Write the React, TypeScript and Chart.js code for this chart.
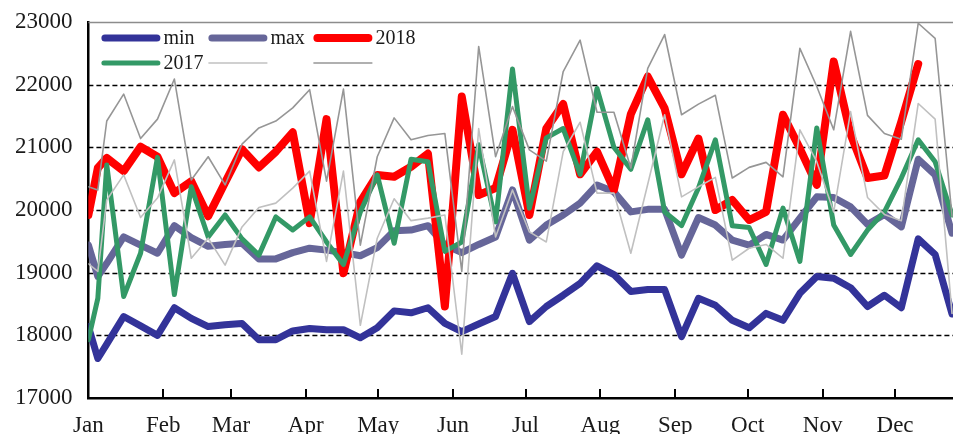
import React, { useEffect, useRef } from 'react';
import { Chart, registerables } from 'chart.js';

Chart.register(...registerables);

// Day-of-year positions of the observations (shared by every series)
const days = [
  0, 3.9, 7.6, 14.6, 21.6, 28.6, 35.6, 42.6, 49.6, 56.6, 63.6, 70.6, 77.6, 84.6, 91.6,
  98.6, 105.6, 112.6, 119.6, 126.6, 133.6, 140.6, 147.6, 154.6, 161.6, 168.6, 175.6,
  182.6, 189.6, 196.6, 203.6, 210.6, 217.6, 224.6, 231.6, 238.6, 245.6, 252.6, 259.6,
  266.6, 273.6, 280.6, 287.6, 294.6, 301.6, 308.6, 315.6, 322.6, 329.6, 336.6, 343.6,
  350.6, 357.6,
];

const monthStarts = [0, 31, 59, 90, 120, 151, 181, 212, 243, 273, 304, 334];
const monthLabels = ['Jan', 'Feb', 'Mar', 'Apr', 'May', 'Jun', 'Jul', 'Aug', 'Sep', 'Oct', 'Nov', 'Dec'];
const yTicks = [17000, 18000, 19000, 20000, 21000, 22000, 23000];

const seriesNames = ['min', 'max', '2018', '2017', '', ''];

const minValues = [
  18140, 17630, 17860, 18300, 18150, 18000, 18440, 18270, 18140, 18170, 18190, 17930, 17930,
  18070, 18110, 18090, 18090, 17960, 18120, 18390, 18360, 18440, 18190, 18060, 18180, 18300,
  18990, 18220, 18460, 18640, 18830, 19110, 18970, 18700, 18730, 18730, 17980, 18590, 18480,
  18240, 18120, 18350, 18240, 18670, 18940, 18910, 18760, 18460, 18640, 18440, 19540, 19290,
  18340,
];

const maxValues = [
  19440, 18940, 19150, 19570, 19440, 19310, 19750, 19560, 19420, 19450, 19470, 19220, 19220,
  19320, 19390, 19360, 19320, 19270, 19400, 19670, 19680, 19750, 19440, 19320, 19450, 19570,
  20320, 19520, 19760, 19920, 20110, 20400, 20290, 19970, 20010, 20010, 19280, 19880, 19760,
  19520, 19440, 19610, 19520, 19870, 20210, 20200, 20050, 19770, 19930, 19730, 20810, 20560,
  19630,
];

const values2018 = [
  19920, 20670, 20830, 20620, 21010, 20850, 20270, 20460, 19900, 20440, 20970, 20680, 20930,
  21240, 19790, 21450, 18990, 20130, 20560, 20530, 20690, 20900, 18460, 21810, 20240, 20350,
  21280, 19920, 21300, 21690, 20570, 20930, 20320, 21530, 22130, 21620, 20570, 21140, 20000,
  20160, 19840, 19970, 21520, 20980, 20400, 22370, 21210, 20510, 20550, 21410, 22330,
];

const values2017 = [
  17930, 18590, 20720, 18620, 19310, 20840, 18650, 20370, 19570, 19920, 19540, 19280, 19890,
  19680, 19890, 19490, 19130, 19970, 20560, 19470, 20810, 20770, 19340, 19490, 21040, 19810,
  22250, 20030, 21150, 21300, 20570, 21940, 21000, 20650, 21440, 19970, 19750, 20350, 21120,
  19750, 19720, 19130, 20030, 19180, 21310, 19760, 19290, 19680, 19970, 20510, 21120, 20770,
  19920,
];

const lightGrayValues = [
  19140, 19020, 20160, 20560, 19880, 20190, 20800, 19230, 19550, 19120, 19730, 20040, 20110,
  20350, 20620, 19180, 20620, 18160, 19550, 20180, 19830, 19870, 19920, 17700, 21300, 19570,
  20320, 19650, 19490, 20930, 21400, 20270, 20270, 19310, 20410, 21520, 20210, 20370, 20520,
  19200, 19390, 19450, 19230, 21280, 20770, 19970, 21570, 20200, 19930, 19830, 21700, 21450,
  18350,
];

const darkGrayValues = [
  20370, 20320, 21420, 21850, 21140, 21450, 22090, 20480, 20850, 20400, 21050, 21310, 21420,
  21630, 21920, 20460, 21930, 19440, 20850, 21470, 21120, 21190, 21220, 19020, 22610, 20850,
  21650, 20960, 20780, 22210, 22710, 21560, 21560, 20670, 22260, 22800, 21520, 21690, 21830,
  20510, 20680, 20760, 20530, 22580, 21970, 21280, 22850, 21510, 21220, 21130, 22980, 22740,
  19900,
];

const FONT = '"Liberation Serif", "Times New Roman", serif';

const toPoints = (vals: number[]) => vals.map((v, i) => ({ x: days[i], y: v }));

const gridPlugin = {
  id: 'customGrid',
  beforeDatasetsDraw(chart: any) {
    const { ctx, chartArea, scales } = chart;
    const ys = scales.y;
    const xs = scales.x;
    ctx.save();
    yTicks.forEach((v) => {
      const py = Math.round(ys.getPixelForValue(v)) + 0.5;
      if (v === yTicks[0]) return;
      ctx.beginPath();
      if (v === yTicks[yTicks.length - 1]) {
        ctx.setLineDash([]);
        ctx.strokeStyle = '#8c8c8c';
        ctx.lineWidth = 1.5;
      } else {
        ctx.setLineDash([5, 3]);
        ctx.strokeStyle = '#000000';
        ctx.lineWidth = 1.6;
      }
      ctx.moveTo(chartArea.left, py);
      ctx.lineTo(chartArea.right, py);
      ctx.stroke();
    });
    ctx.setLineDash([]);
    ctx.strokeStyle = '#000000';
    ctx.lineWidth = 2;
    monthStarts.forEach((d) => {
      const px = Math.round(xs.getPixelForValue(d));
      ctx.beginPath();
      ctx.moveTo(px, chartArea.bottom);
      ctx.lineTo(px, chartArea.bottom - 9);
      ctx.stroke();
    });
    ctx.restore();
  },
};

const legendPlugin = {
  id: 'customLegend',
  afterDatasetsDraw(chart: any) {
    const { ctx, chartArea } = chart;
    const cols = [13, 120, 225];
    const rows = [16, 41];
    const sampleLen = 59;
    ctx.save();
    chart.data.datasets.forEach((ds: any, i: number) => {
      const x = chartArea.left + cols[i % 3];
      const y = chartArea.top + rows[Math.floor(i / 3)];
      const w = ds.borderWidth;
      const thick = w > 3;
      ctx.beginPath();
      ctx.strokeStyle = ds.borderColor;
      ctx.lineWidth = w;
      ctx.lineCap = thick ? 'round' : 'butt';
      const inset = thick ? w / 2 : 0;
      ctx.moveTo(x + inset, y);
      ctx.lineTo(x + sampleLen - inset, y);
      ctx.stroke();
      if (ds.label) {
        ctx.fillStyle = '#1a1a1a';
        ctx.font = `20px ${FONT}`;
        ctx.textBaseline = 'middle';
        ctx.textAlign = 'left';
        ctx.fillText(ds.label, x + sampleLen + 3, y + 1);
      }
    });
    ctx.restore();
  },
};

export default function App() {
  const canvasRef = useRef<HTMLCanvasElement | null>(null);

  useEffect(() => {
    if (!canvasRef.current) return;
    const common = {
      pointRadius: 0,
      pointHoverRadius: 0,
      tension: 0,
      borderJoinStyle: 'round' as const,
      borderCapStyle: 'round' as const,
      fill: false,
    };
    const chart = new Chart(canvasRef.current, {
      type: 'line',
      data: {
        datasets: [
          { ...common, label: seriesNames[0], data: toPoints(minValues), borderColor: '#333399', borderWidth: 7, order: 6 },
          { ...common, label: seriesNames[1], data: toPoints(maxValues), borderColor: '#666699', borderWidth: 7, order: 5 },
          { ...common, label: seriesNames[2], data: toPoints(values2018), borderColor: '#ff0000', borderWidth: 8, order: 4 },
          { ...common, label: seriesNames[3], data: toPoints(values2017), borderColor: '#339966', borderWidth: 5, order: 3 },
          { ...common, label: seriesNames[4], data: toPoints(lightGrayValues), borderColor: '#c0c0c0', borderWidth: 1.6, order: 2 },
          { ...common, label: seriesNames[5], data: toPoints(darkGrayValues), borderColor: '#969696', borderWidth: 1.6, order: 1 },
        ],
      },
      options: {
        animation: false,
        responsive: false,
        devicePixelRatio: 1,
        layout: { padding: { top: 22, left: 0, right: 0, bottom: 0 } },
        plugins: {
          legend: { display: false },
          tooltip: { enabled: false },
        },
        scales: {
          x: {
            type: 'linear',
            min: 0,
            max: 358,
            grid: { display: false, drawTicks: false },
            border: { display: true, color: '#000000', width: 2.5 },
            afterBuildTicks: (scale: any) => {
              scale.ticks = monthStarts.map((v) => ({ value: v }));
            },
            afterFit: (scale: any) => {
              scale.height = 36;
            },
            ticks: {
              autoSkip: false,
              maxRotation: 0,
              minRotation: 0,
              padding: 14,
              color: '#1a1a1a',
              font: { family: FONT, size: 23 },
              callback: (_v: any, i: number) => monthLabels[i],
            },
          },
          y: {
            type: 'linear',
            min: yTicks[0],
            max: yTicks[yTicks.length - 1],
            grid: { display: false, drawTicks: false },
            border: { display: true, color: '#000000', width: 2.5 },
            afterFit: (scale: any) => {
              scale.width = 88.4;
              scale.paddingTop = 0;
              scale.paddingBottom = 0;
            },
            afterBuildTicks: (scale: any) => {
              scale.ticks = yTicks.map((v) => ({ value: v }));
            },
            ticks: {
              padding: 16,
              color: '#1a1a1a',
              font: { family: FONT, size: 23 },
              callback: (v: any) => String(v),
            },
          },
        },
      },
      plugins: [gridPlugin, legendPlugin],
    });
    return () => chart.destroy();
  }, []);

  return (
    <div style={{ position: 'fixed', left: 0, top: 0, width: 953, height: 434, background: '#ffffff' }}>
      <canvas ref={canvasRef} width={953} height={434} style={{ display: 'block' }} />
    </div>
  );
}
